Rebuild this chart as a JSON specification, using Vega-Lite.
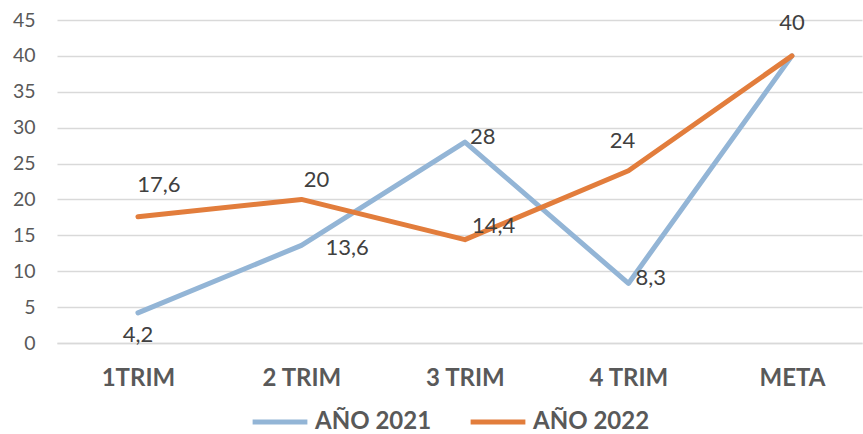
{
  "$schema": "https://vega.github.io/schema/vega-lite/v6.json",
  "width": 805,
  "height": 323,
  "autosize": "none",
  "padding": {"left": 57, "top": 20, "right": 1, "bottom": 91},
  "background": "white",
  "config": {
    "locale": {"number": {"decimal": ",", "thousands": ".", "grouping": [3], "currency": ["", " €"]}},
    "view": {"stroke": null},
    "font": "Lato",
    "text": {"font": "Lato", "fontSize": 22, "color": "#404040"}
  },
  "data": {
    "values": [
      {"trimestre": "1TRIM", "serie": "AÑO 2021", "valor": 4.2},
      {"trimestre": "2 TRIM", "serie": "AÑO 2021", "valor": 13.6},
      {"trimestre": "3 TRIM", "serie": "AÑO 2021", "valor": 28},
      {"trimestre": "4 TRIM", "serie": "AÑO 2021", "valor": 8.3},
      {"trimestre": "META", "serie": "AÑO 2021", "valor": 40},
      {"trimestre": "1TRIM", "serie": "AÑO 2022", "valor": 17.6},
      {"trimestre": "2 TRIM", "serie": "AÑO 2022", "valor": 20},
      {"trimestre": "3 TRIM", "serie": "AÑO 2022", "valor": 14.4},
      {"trimestre": "4 TRIM", "serie": "AÑO 2022", "valor": 24},
      {"trimestre": "META", "serie": "AÑO 2022", "valor": 40}
    ]
  },
  "encoding": {
    "x": {
      "field": "trimestre",
      "type": "ordinal",
      "sort": ["1TRIM", "2 TRIM", "3 TRIM", "4 TRIM", "META"],
      "scale": {"type": "point", "padding": 0.4618, "align": 0.536},
      "axis": {
        "title": null,
        "grid": false,
        "ticks": false,
        "domain": true,
        "domainColor": "#D9D9D9",
        "domainWidth": 1.5,
        "labelAngle": 0,
        "labelBaseline": "middle",
        "labelPadding": 35,
        "labelFont": "Lato",
        "labelFontSize": 24,
        "labelFontWeight": "bold",
        "labelColor": "#595959"
      }
    },
    "y": {
      "field": "valor",
      "type": "quantitative",
      "scale": {"domain": [0, 45], "nice": false, "zero": true},
      "axis": {
        "title": null,
        "values": [0, 5, 10, 15, 20, 25, 30, 35, 40, 45],
        "domain": false,
        "ticks": false,
        "grid": true,
        "gridColor": "#D9D9D9",
        "gridWidth": 1.5,
        "labelPadding": 22,
        "labelFont": "Lato",
        "labelFontSize": 19.5,
        "labelColor": "#595959"
      }
    }
  },
  "layer": [
    {
      "mark": {"type": "line", "strokeWidth": 5, "strokeCap": "round", "strokeJoin": "round"},
      "encoding": {
        "color": {
          "field": "serie",
          "type": "nominal",
          "scale": {"domain": ["AÑO 2021", "AÑO 2022"], "range": ["#93B5D6", "#E27D3C"]},
          "legend": {
            "title": null,
            "orient": "none",
            "direction": "horizontal",
            "legendX": 193,
            "legendY": 372,
            "symbolType": "stroke",
            "symbolSize": 3000,
            "symbolStrokeWidth": 5,
            "labelFont": "Lato",
            "labelFontSize": 24,
            "labelFontWeight": "bold",
            "labelColor": "#595959",
            "labelOffset": 5,
            "columnPadding": 28
          }
        }
      }
    },
    {
      "transform": [{"filter": "datum.serie == 'AÑO 2021' && datum.trimestre == '1TRIM'"}],
      "mark": {"type": "text", "align": "center", "baseline": "middle", "dy": 22},
      "encoding": {"text": {"field": "valor", "type": "quantitative", "format": ".1~f"}}
    },
    {
      "transform": [{"filter": "datum.serie == 'AÑO 2021' && datum.trimestre == '2 TRIM'"}],
      "mark": {"type": "text", "align": "left", "baseline": "middle", "dx": 24, "dy": 3},
      "encoding": {"text": {"field": "valor", "type": "quantitative", "format": ".1~f"}}
    },
    {
      "transform": [{"filter": "datum.serie == 'AÑO 2021' && datum.trimestre == '3 TRIM'"}],
      "mark": {"type": "text", "align": "left", "baseline": "middle", "dx": 5, "dy": -5},
      "encoding": {"text": {"field": "valor", "type": "quantitative", "format": ".1~f"}}
    },
    {
      "transform": [{"filter": "datum.serie == 'AÑO 2021' && datum.trimestre == '4 TRIM'"}],
      "mark": {"type": "text", "align": "left", "baseline": "middle", "dx": 7, "dy": -5},
      "encoding": {"text": {"field": "valor", "type": "quantitative", "format": ".1~f"}}
    },
    {
      "transform": [{"filter": "datum.serie == 'AÑO 2021' && datum.trimestre == 'META'"}],
      "mark": {"type": "text", "align": "center", "baseline": "middle", "dy": -33},
      "encoding": {"text": {"field": "valor", "type": "quantitative", "format": ".1~f"}}
    },
    {
      "transform": [{"filter": "datum.serie == 'AÑO 2022' && datum.trimestre == '1TRIM'"}],
      "mark": {"type": "text", "align": "center", "baseline": "middle", "dx": 21, "dy": -32},
      "encoding": {"text": {"field": "valor", "type": "quantitative", "format": ".1~f"}}
    },
    {
      "transform": [{"filter": "datum.serie == 'AÑO 2022' && datum.trimestre == '2 TRIM'"}],
      "mark": {"type": "text", "align": "center", "baseline": "middle", "dx": 15, "dy": -19},
      "encoding": {"text": {"field": "valor", "type": "quantitative", "format": ".1~f"}}
    },
    {
      "transform": [{"filter": "datum.serie == 'AÑO 2022' && datum.trimestre == '3 TRIM'"}],
      "mark": {"type": "text", "align": "left", "baseline": "middle", "dx": 7, "dy": -14},
      "encoding": {"text": {"field": "valor", "type": "quantitative", "format": ".1~f"}}
    },
    {
      "transform": [{"filter": "datum.serie == 'AÑO 2022' && datum.trimestre == '4 TRIM'"}],
      "mark": {"type": "text", "align": "center", "baseline": "middle", "dx": -6, "dy": -30},
      "encoding": {"text": {"field": "valor", "type": "quantitative", "format": ".1~f"}}
    }
  ]
}
